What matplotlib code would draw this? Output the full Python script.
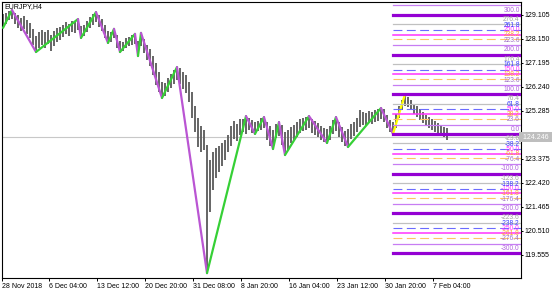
import numpy as np
import matplotlib
matplotlib.use("Agg")
import matplotlib.pyplot as plt
import matplotlib.transforms as mtransforms

plt.rcParams['font.family'] = ['Liberation Sans', 'DejaVu Sans']

# ==========================
# Data (EURJPY H4)
# ==========================

highs = [129.14, 129.18, 129.26, 129.30, 129.18, 129.10, 128.98, 129.06, 128.90, 128.78,
         128.55, 128.27, 128.43, 128.51, 128.43, 128.51, 128.31, 128.47, 128.59, 128.63,
         128.70, 128.82, 128.74, 128.86, 128.82, 128.94, 128.67, 128.70, 128.86, 129.02,
         129.14, 129.22, 129.10, 128.94, 128.70, 128.47, 128.43, 128.55, 128.31, 128.07,
         128.03, 128.19, 128.23, 128.31, 128.35, 128.07, 128.39, 128.15, 127.91, 127.75,
         127.47, 127.19, 126.83, 126.44, 126.40, 126.60, 126.75, 126.91, 127.03, 126.99,
         126.83, 126.72, 126.44, 126.04, 125.48, 125.00, 124.69, 124.53, 123.93, 123.33,
         123.65, 123.81, 123.89, 124.01, 124.13, 124.33, 124.69, 124.88, 124.76, 124.96,
         124.96, 125.08, 125.00, 124.92, 124.84, 124.88, 125.00, 125.04, 124.84, 124.69,
         124.53, 124.76, 124.84, 124.73, 124.45, 124.53, 124.65, 124.73, 124.84, 124.96,
         125.00, 125.04, 125.08, 124.96, 124.88, 124.80, 124.69, 124.61, 124.57, 124.69,
         124.92, 125.04, 124.84, 124.65, 124.49, 124.57, 124.76, 124.84, 125.00, 125.32,
         125.24, 125.20, 125.28, 125.24, 125.32, 125.36, 125.40, 125.36, 125.12, 124.92,
         124.84, 125.16, 125.48, 125.72, 125.95, 125.84, 125.72, 125.56, 125.48, 125.36,
         125.24, 125.12, 125.04, 124.96, 124.88, 124.80, 124.73, 124.65, 124.61]

lows = [128.59, 128.74, 128.90, 128.94, 128.74, 128.59, 128.47, 128.55, 128.35, 128.19,
        127.91, 127.63, 127.79, 127.91, 127.79, 127.95, 127.67, 127.87, 128.03, 128.11,
        128.23, 128.35, 128.27, 128.43, 128.39, 128.51, 128.19, 128.27, 128.43, 128.59,
        128.70, 128.82, 128.63, 128.47, 128.19, 127.99, 128.03, 128.19, 127.79, 127.63,
        127.67, 127.79, 127.87, 127.91, 127.95, 127.47, 127.87, 127.59, 127.31, 127.07,
        126.72, 126.32, 126.04, 125.80, 125.88, 126.04, 126.20, 126.36, 126.52, 126.36,
        126.16, 126.00, 125.64, 125.00, 124.45, 123.85, 123.65, 123.73, 118.83, 121.26,
        122.14, 122.62, 122.85, 123.09, 123.33, 123.65, 123.89, 124.17, 124.09, 124.33,
        124.45, 124.37, 124.53, 124.41, 124.37, 124.49, 124.53, 124.61, 124.13, 123.89,
        123.77, 124.21, 124.29, 123.93, 123.53, 123.73, 124.01, 124.13, 124.25, 124.41,
        124.49, 124.53, 124.61, 124.41, 124.33, 124.25, 124.13, 124.05, 124.01, 124.13,
        124.37, 124.49, 124.25, 124.05, 123.89, 123.85, 124.17, 124.29, 124.45, 124.65,
        124.73, 124.69, 124.80, 124.76, 124.84, 124.88, 124.96, 124.84, 124.61, 124.45,
        124.37, 124.61, 125.00, 125.32, 125.48, 125.44, 125.32, 125.16, 125.04, 124.92,
        124.80, 124.69, 124.61, 124.53, 124.45, 124.37, 124.33, 124.25, 124.13]

# zigzag turning bars, first one is a low, then alternating
zz_bars = [0, 3, 11, 25, 26, 31, 35, 37, 39, 44, 45, 46, 53, 58, 68,
           81, 84, 87, 90, 92, 94, 102, 108, 111, 115, 126, 130, 134]

date_labels = ['28 Nov 2018', '6 Dec 04:00', '13 Dec 12:00', '20 Dec 20:00', '31 Dec 08:00',
               '8 Jan 20:00', '16 Jan 04:00', '23 Jan 12:00', '30 Jan 20:00', '7 Feb 04:00']
price_ticks = [129.105, 128.150, 127.195, 126.240, 125.285, 124.330,
               123.375, 122.420, 121.465, 120.510, 119.555]
last_price = 124.246

fib_fracs = [0.0, 23.6, 38.2, 50.0, 61.8, 76.4]
fib_bands = [-3, -2, -1, 0, 1, 2, 3]

# ==========================
# Styles
# ==========================

FS = 5
BAR_COLOR = '#606060'
UP_COLOR = '#36D036'
DOWN_COLOR = '#BA55D3'
LAST_COLOR = '#FFFF00'

fib_style = {
    0.0:  dict(color='#9400D3', lw=2.3, ls='-'),
    23.6: dict(color='#C77DF3', lw=0.9, ls='-'),
    38.2: dict(color='#FFC266', lw=0.8, ls=(0, (8, 4))),
    50.0: dict(color='#FF33FF', lw=1.1, ls='-'),
    61.8: dict(color='#6B6BFF', lw=0.8, ls=(0, (8, 4))),
    76.4: dict(color='#C0C0C0', lw=0.9, ls='-'),
}
fib_text_color = {0.0: '#B060E0', 23.6: '#A070C8', 38.2: '#FFA030',
                  50.0: '#FF30FF', 61.8: '#3A3AFF', 76.4: '#A0A0A0'}

# ==========================
# Figure
# ==========================

W, H = 560, 294
fig = plt.figure(figsize=(W / 100, H / 100), dpi=100)
ax = fig.add_axes([2 / W, 1 - 278 / H, 519 / W, 276 / H])

n = len(highs)
x = np.arange(n)
x_left, x_right = -1 / 3, 518 / 3
y_low, y_high = 118.636, 129.620
ax.set_xlim(x_left, x_right)
ax.set_ylim(y_low, y_high)

# current price line
ax.axhline(last_price, color='#C8C8C8', lw=0.8, zorder=1)

# price bars
ax.vlines(x, lows, highs, color=BAR_COLOR, lw=1.35, zorder=2)

# zigzag
zz_price = [lows[b] if k % 2 == 0 else highs[b] for k, b in enumerate(zz_bars)]
for k in range(len(zz_bars) - 1):
    if k == len(zz_bars) - 2:
        c = LAST_COLOR
    elif k % 2 == 0:
        c = UP_COLOR
    else:
        c = DOWN_COLOR
    ax.plot(zz_bars[k:k + 2], zz_price[k:k + 2], color=c, lw=1.6,
            solid_capstyle='round', zorder=3)

# fibo levels from the last swing
base = zz_price[-2]
rng = zz_price[-1] - zz_price[-2]
fib_x0 = zz_bars[-2]
fib_x1 = x_right - 0.1
for band in fib_bands:
    for fr in fib_fracs:
        val = band * 100 + fr
        lvl = base + val / 100 * rng
        st = fib_style[fr]
        ax.plot([fib_x0, fib_x1], [lvl, lvl], color=st['color'], lw=st['lw'],
                ls=st['ls'], zorder=4)
        if lvl + 0.3 < y_high:
            ax.annotate(f'{val:.1f}', xy=(x_right - 0.4, lvl), xytext=(0, 2.3),
                        textcoords='offset points', ha='right', va='baseline',
                        fontsize=4.8, color=fib_text_color[fr], zorder=5)

# title
ax.text(0.004, 0.995, 'EURJPY,H4', transform=ax.transAxes, ha='left', va='top',
        fontsize=FS, color='black')

# axes
for s in ax.spines.values():
    s.set_linewidth(0.8)
    s.set_color('black')

# the 124.330 label sits under the last price box
ax.yaxis.tick_right()
ax.set_yticks(price_ticks)
ax.set_yticklabels(['' if abs(p - 124.330) < 1e-6 else f'{p:.3f}' for p in price_ticks])
ax.tick_params(axis='y', direction='out', length=1.6, width=0.7, pad=1,
               labelsize=FS, colors='black')

xticks = [x_left] + [(49 - 3) / 3 + 16 * k for k in range(len(date_labels) - 1)]
ax.set_xticks(xticks)
ax.set_xticklabels(date_labels)
for lbl in ax.get_xticklabels():
    lbl.set_ha('left')
ax.tick_params(axis='x', direction='out', length=2.5, width=0.7, pad=1.2,
               labelsize=FS, colors='black')

# last price box on the price scale
trans = mtransforms.blended_transform_factory(ax.transAxes, ax.transData)
ax.text(1.0, last_price, ' 124.246 ', transform=trans, ha='left', va='center',
        fontsize=FS, color='white', zorder=10, clip_on=False,
        bbox=dict(boxstyle='square,pad=0.25', facecolor='#BEBEBE', edgecolor='none'))

fig.savefig('out.png', dpi=100)
